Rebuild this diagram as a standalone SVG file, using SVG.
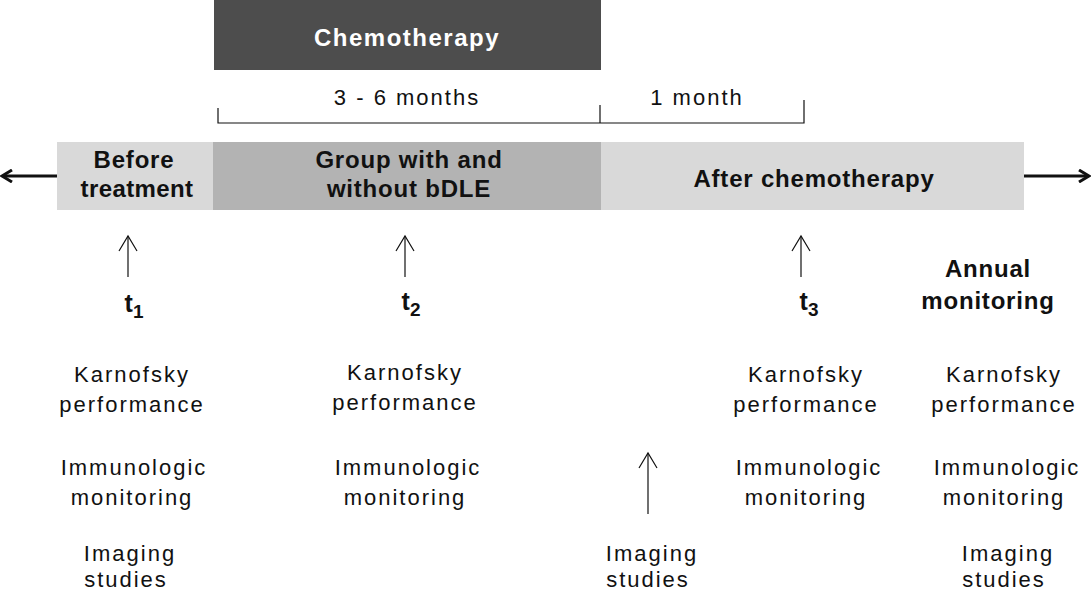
<svg xmlns="http://www.w3.org/2000/svg" width="1091" height="590" viewBox="0 0 1091 590">
<style>
text{font-family:"Liberation Sans",Arial,sans-serif;fill:#111;text-anchor:middle}
.b{font-weight:bold;font-size:24px;letter-spacing:0.8px}
.n{font-size:22px;letter-spacing:2px}
.t{font-weight:bold;font-size:25px}
.thin{stroke:#111;stroke-width:1.2;fill:none}
.thick{stroke:#111;stroke-width:3;fill:none}
</style>
<defs>
<marker id="open" markerWidth="18" markerHeight="20" refX="16" refY="10" orient="auto" markerUnits="userSpaceOnUse" viewBox="0 0 18 20">
<path d="M1,1 L16,10 L1,19" fill="none" stroke="#111" stroke-width="1.2"/>
</marker>
<marker id="bold" markerWidth="14" markerHeight="14" refX="11" refY="7" orient="auto" markerUnits="userSpaceOnUse" viewBox="0 0 14 14">
<path d="M2,1 L12,7 L2,13" fill="none" stroke="#111" stroke-width="3"/>
</marker>
</defs>
<rect width="1091" height="590" fill="#fff"/>
<g id="chemo">
<rect x="214" y="0" width="387" height="70" fill="#4d4d4d"/>
<text x="407" y="46" class="b" style="fill:#fff;letter-spacing:1.5px">Chemotherapy</text>
</g>
<g id="durations">
<path class="thin" d="M218,108 V123 H804 V100 M600,105 V123"/>
<text x="407" y="105" class="n">3 - 6 months</text>
<text x="697" y="105" class="n">1 month</text>
</g>
<g id="before">
<rect x="57" y="142" width="157" height="68" fill="#d9d9d9"/>
<text class="b" x="134" y="168">Before</text>
<text class="b" x="137" y="197" style="letter-spacing:0.4px">treatment</text>
</g>
<g id="group">
<rect x="213" y="142" width="388" height="68" fill="#b3b3b3"/>
<text class="b" x="409" y="168">Group with and</text>
<text class="b" x="409" y="197">without bDLE</text>
</g>
<g id="after">
<rect x="601" y="142" width="423" height="68" fill="#d9d9d9"/>
<text class="b" x="814" y="187">After chemotherapy</text>
</g>
<g id="connectors">
<line class="thick" x1="57" y1="176" x2="3" y2="176" marker-end="url(#bold)"/>
<line class="thick" x1="1024" y1="176" x2="1088" y2="176" marker-end="url(#bold)"/>
<line class="thin" x1="128" y1="277" x2="128" y2="236" marker-end="url(#open)"/>
<line class="thin" x1="405" y1="277" x2="405" y2="236" marker-end="url(#open)"/>
<line class="thin" x1="801" y1="277" x2="801" y2="236" marker-end="url(#open)"/>
<line class="thin" x1="648" y1="514" x2="648" y2="453" marker-end="url(#open)"/>
</g>
<g id="t1">
<text class="t" x="134" y="312">t<tspan font-size="19" dy="6">1</tspan></text>
<text class="n" x="132" y="382">Karnofsky</text>
<text class="n" x="132" y="412">performance</text>
<text class="n" x="134" y="475">Immunologic</text>
<text class="n" x="132" y="505">monitoring</text>
<text class="n" x="130" y="561">Imaging</text>
<text class="n" x="126" y="587">studies</text>
</g>
<g id="t2">
<text class="t" x="411" y="310">t<tspan font-size="19" dy="6">2</tspan></text>
<text class="n" x="405" y="380">Karnofsky</text>
<text class="n" x="405" y="410">performance</text>
<text class="n" x="408" y="475">Immunologic</text>
<text class="n" x="405" y="505">monitoring</text>
</g>
<g id="imaging-mid">
<text class="n" x="652" y="561">Imaging</text>
<text class="n" x="648" y="587">studies</text>
</g>
<g id="t3">
<text class="t" x="809" y="310">t<tspan font-size="19" dy="6">3</tspan></text>
<text class="n" x="806" y="382">Karnofsky</text>
<text class="n" x="806" y="412">performance</text>
<text class="n" x="809" y="475">Immunologic</text>
<text class="n" x="806" y="505">monitoring</text>
</g>
<g id="annual">
<text class="b" x="988" y="277">Annual</text>
<text class="b" x="988" y="309">monitoring</text>
<text class="n" x="1004" y="382">Karnofsky</text>
<text class="n" x="1004" y="412">performance</text>
<text class="n" x="1007" y="475">Immunologic</text>
<text class="n" x="1004" y="505">monitoring</text>
<text class="n" x="1008" y="561">Imaging</text>
<text class="n" x="1004" y="587">studies</text>
</g>
</svg>
